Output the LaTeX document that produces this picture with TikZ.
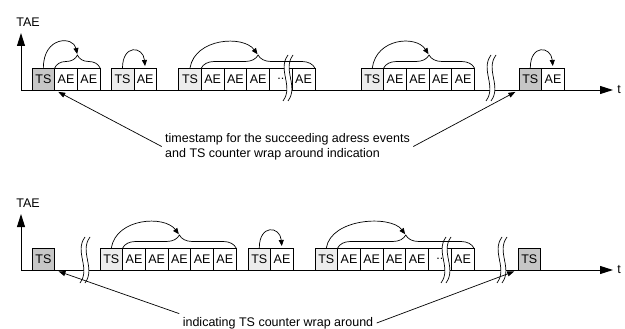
\documentclass[tikz,border=0pt]{standalone}
\usepackage{fontspec}
\setmainfont{Liberation Sans}
\usetikzlibrary{arrows.meta, positioning, calc, decorations.pathreplacing}

\newcommand{\wrapcut}[1]{%
  \begin{scope}[shift={(#1)}]
    \fill[white] (0,-23) .. controls (-11,-8) and (6,8) .. (-5,23) -- (0,23)
      .. controls (11,8) and (-6,-8) .. (5,-23) -- cycle;
    \draw[line width=0.7pt] (0,-23) .. controls (-11,-8) and (6,8) .. (-5,23);
    \draw[line width=0.7pt] (5,-23) .. controls (-6,-8) and (11,8) .. (0,23);
  \end{scope}}

\begin{document}
\begin{tikzpicture}[x=1pt, y=-1pt,
  font=\fontsize{12.5}{15}\selectfont,
  cell/.style={draw, outer sep=0pt, inner sep=0pt, minimum width=22.7pt,
               minimum height=22pt, fill=white, line width=0.7pt},
  tsdark/.style={cell, fill=gray!45},
  tslight/.style={cell, fill=gray!15},
  axis/.style={-{Triangle[length=13pt,width=8pt]}, line width=0.9pt},
  hop/.style={-{Triangle[length=6pt,width=5pt]}, line width=0.7pt, shorten >=1pt},
  pointer/.style={-{Triangle[length=7pt,width=5pt]}, line width=0.7pt, shorten >=4pt},
  grp/.style={decorate, decoration={brace, amplitude=13pt}, line width=0.7pt},
  node distance=0pt
]
\useasboundingbox (0,0) rectangle (625,329);

% upper time line
\coordinate (o1) at (21,90);
\coordinate (y1) at (21,33);
\coordinate (x1) at (613,90);
\draw[axis] (o1) -- (y1);
\draw[axis] (o1) -- (x1);
\node (tae1) at (28,22.5) {TAE};
\node (tt1) at (619,90) {t};

\node[tsdark] (t1) at (43.35,79) {TS};
\node[cell, right=of t1] (a11) {AE};
\node[cell, right=of a11] (a12) {AE};

\node[tslight] (t2) at (122.5,79) {TS};
\node[cell, right=of t2] (a21) {AE};

\node[tslight] (t3) at (190,79) {TS};
\node[cell, right=of t3] (a31) {AE};
\node[cell, right=of a31] (a32) {AE};
\node[cell, right=of a32] (a33) {AE};
\node[cell, right=of a33] (d3) {..\hspace{7pt}};
\node[cell, right=of d3] (a34) {AE};

\node[tslight] (t4) at (372.3,79) {TS};
\node[cell, right=of t4] (a41) {AE};
\node[cell, right=of a41] (a42) {AE};
\node[cell, right=of a42] (a43) {AE};
\node[cell, right=of a43] (a44) {AE};

\node[tsdark] (t5) at (530.3,79) {TS};
\node[cell, right=of t5] (a51) {AE};

\wrapcut{288,78}
\wrapcut{491,78}

\draw[grp] (a11.north west) -- (a12.north east);
\draw[grp] (a31.north west) -- (a34.north east);
\draw[grp] (a41.north west) -- (a44.north east);
\coordinate (b1) at ($(a11.north west)!0.5!(a12.north east)+(0,-13)$);
\coordinate (b3) at ($(a31.north west)!0.5!(a34.north east)+(0,-13)$);
\coordinate (b4) at ($(a41.north west)!0.5!(a44.north east)+(0,-13)$);

\draw[hop] (t1.north) .. controls +(0,-32) and +(-4,-19) .. (b1);
\draw[hop, shorten >=2pt] (t2.north) .. controls +(0,-24) and +(-2,-22) .. (a21.north);
\draw[hop] (t3.north) .. controls +(5,-30) and +(-15,-20) .. (b3);
\draw[hop] (t4.north) .. controls +(4,-30) and +(-13,-20) .. (b4);
\draw[hop, shorten >=2pt] (t5.north) .. controls +(0,-24) and +(-2,-22) .. (a51.north);

\node[align=left] (note1) at (287.5,146.5)
  {timestamp for the succeeding adress events\\and TS counter wrap around indication};
\draw[pointer] (note1.west) -- (t1.south east);
\draw[pointer] (note1.east) -- (t5.south west);

% lower time line
\coordinate (o2) at (21,270);
\coordinate (y2) at (21,214);
\coordinate (x2) at (613,270);
\draw[axis] (o2) -- (y2);
\draw[axis] (o2) -- (x2);
\node (tae2) at (28,203.5) {TAE};
\node (tt2) at (619,270) {t};

\node[tsdark] (t6) at (43.35,259) {TS};

\node[tslight] (t7) at (111.3,259) {TS};
\node[cell, right=of t7] (a71) {AE};
\node[cell, right=of a71] (a72) {AE};
\node[cell, right=of a72] (a73) {AE};
\node[cell, right=of a73] (a74) {AE};
\node[cell, right=of a74] (a75) {AE};

\node[tslight] (t8) at (259.3,259) {TS};
\node[cell, right=of t8] (a81) {AE};

\node[tslight] (t9) at (326.3,259) {TS};
\node[cell, right=of t9] (a91) {AE};
\node[cell, right=of a91] (a92) {AE};
\node[cell, right=of a92] (a93) {AE};
\node[cell, right=of a93] (a94) {AE};
\node[cell, right=of a94] (d9) {..\hspace{7pt}};
\node[cell, right=of d9] (a95) {AE};

\node[tsdark] (t10) at (529.3,259) {TS};

\wrapcut{85,260}
\wrapcut{446,260}
\wrapcut{502,260}

\draw[grp] (a71.north west) -- (a75.north east);
\draw[grp] (a91.north west) -- (a95.north east);
\coordinate (b7) at ($(a71.north west)!0.5!(a75.north east)+(0,-13)$);
\coordinate (b9) at ($(a91.north west)!0.5!(a95.north east)+(0,-13)$);

\draw[hop] (t7.north) .. controls +(5,-30) and +(-15,-20) .. (b7);
\draw[hop, shorten >=2pt] (t8.north) .. controls +(0,-24) and +(-2,-22) .. (a81.north);
\draw[hop] (t9.north) .. controls +(5,-30) and +(-15,-20) .. (b9);

\node (note2) at (278,323) {indicating TS counter wrap around};
\draw[pointer] (note2.north west) -- (t6.south east);
\draw[pointer] (note2.east) -- (t10.south west);
\end{tikzpicture}
\end{document}
